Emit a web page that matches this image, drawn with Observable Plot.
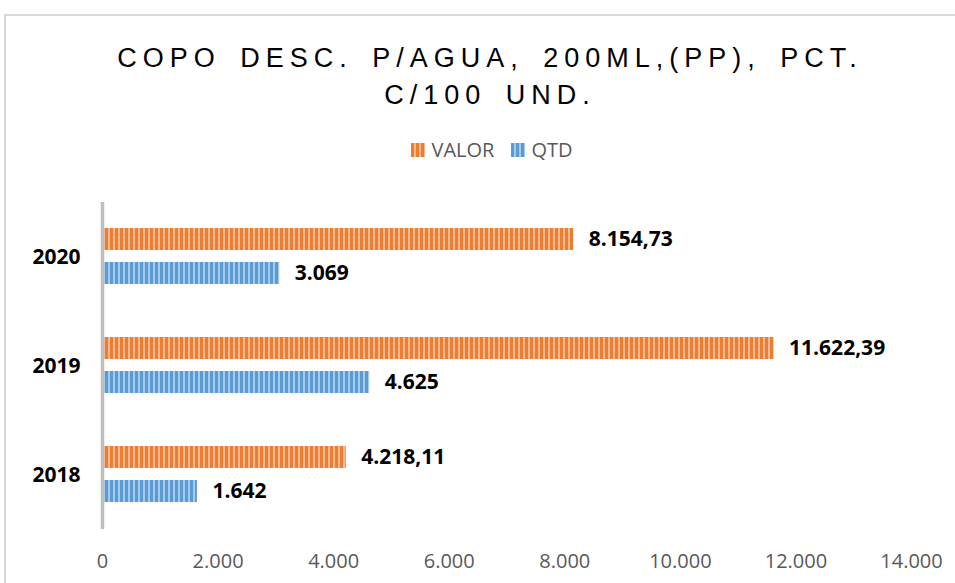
<!DOCTYPE html>
<html>
<head>
<meta charset="utf-8">
<script src="https://cdn.jsdelivr.net/npm/d3@7"></script>
<script src="https://cdn.jsdelivr.net/npm/@observablehq/plot@0.6"></script>
<style>
  html, body { margin: 0; padding: 0; background: #fff; }
  #wrap { position: relative; width: 955px; height: 583px; overflow: hidden; }
  #frame { position: absolute; left: 4px; top: 14px; width: 1200px; height: 1200px;
           border-top: 2px solid #d9d9d9; border-left: 2px solid #d9d9d9; box-sizing: border-box; }
  #header { position: relative; width: 955px; height: 165px; }
  #title { position: absolute; left: 4px; width: 972px; top: 40px; text-align: center;
           font-family: "Liberation Sans", Arial, sans-serif; font-size: 27px; line-height: 37px;
           letter-spacing: 6px; word-spacing: 6px; color: #000; }
  #legend { position: absolute; left: 4px; width: 976px; top: 140px; height: 20px;
            display: flex; justify-content: center; align-items: center;
            font-family: "Open Sans", sans-serif; font-size: 20px; line-height: 20px; color: #595959; }
  #legend .item { display: flex; align-items: center; }
  #legend svg { display: block; margin-right: 6px; }
  #legend .item + .item { margin-left: 17px; }
  #chart { position: relative; }
</style>
</head>
<body>
<svg width="0" height="0" style="position:absolute">
  <defs>
    <pattern id="stripeO" patternUnits="userSpaceOnUse" width="5" height="10">
      <rect width="5" height="10" fill="#ED7D31"></rect>
      <rect x="3" width="2" height="10" fill="#F6B990"></rect>
    </pattern>
    <pattern id="stripeB" patternUnits="userSpaceOnUse" width="5" height="10">
      <rect width="5" height="10" fill="#5B9BD5"></rect>
      <rect x="3" width="2" height="10" fill="#A9CBEB"></rect>
    </pattern>
  </defs>
</svg>
<div id="wrap">
  <div id="frame"></div>
  <div id="header">
    <div id="title">COPO DESC. P/AGUA, 200ML,(PP), PCT.<br>C/100 UND.</div>
    <div id="legend"></div>
  </div>
  <div id="chart"></div>
</div>
<script>
// ---- data ----
const years = [2020, 2019, 2018];
const series = ["VALOR", "QTD"];
const valor = [8154.73, 11622.39, 4218.11];
const qtd = [3069, 4625, 1642];
const xTicks = [0, 2000, 4000, 6000, 8000, 10000, 12000, 14000];
const seriesFill = {VALOR: "url(#stripeO)", QTD: "url(#stripeB)"};

const br = d3.formatLocale({decimal: ",", thousands: ".", grouping: [3], currency: ["R$", ""]});
const fmtInt = br.format(",.0f");
const fmtDec = br.format(",.2f");

const data = years.flatMap((year, i) => [
  {year, serie: "VALOR", value: valor[i], label: fmtDec(valor[i])},
  {year, serie: "QTD", value: qtd[i], label: fmtInt(qtd[i])}
]);

// legend
const legend = document.getElementById("legend");
series.forEach(s => {
  const item = document.createElement("div");
  item.className = "item";
  item.innerHTML = `<svg width="14" height="14"><rect width="14" height="14" fill="${seriesFill[s]}"></rect></svg><span>${s}</span>`;
  legend.appendChild(item);
});

const chart = Plot.plot({
  width: 955,
  height: 418,
  marginLeft: 102,
  marginRight: 44,
  marginTop: 37,
  marginBottom: 54,
  style: {fontFamily: "'Open Sans', sans-serif", fontSize: "20px", color: "#595959", background: "transparent"},
  x: {domain: [0, 14000]},
  y: {domain: series, paddingInner: 0.343, paddingOuter: 0.729, axis: null},
  fy: {domain: years, padding: 0, axis: null},
  marks: [
    Plot.axisX({ticks: xTicks, tickSize: 0, tickPadding: 24, tickFormat: fmtInt, label: null, fontSize: 20, fill: "#595959"}),
    Plot.axisFy({anchor: "left", tickSize: 0, tickPadding: 22, tickFormat: d => String(d), label: null, fontSize: 21, fontWeight: "bold", fill: "#000"}),
    Plot.barX(data.filter(d => d.serie === "VALOR"), {fy: "year", y: "serie", x: "value", fill: seriesFill.VALOR}),
    Plot.barX(data.filter(d => d.serie === "QTD"), {fy: "year", y: "serie", x: "value", fill: seriesFill.QTD}),
    Plot.ruleX([0], {stroke: "#BFBFBF", strokeWidth: 3.5}),
    Plot.text(data, {fy: "year", y: "serie", x: "value", text: "label", dx: 15, textAnchor: "start",
                     fontWeight: "bold", fontSize: 21, fill: "#000"})
  ]
});
document.getElementById("chart").appendChild(chart);
</script>
</body>
</html>
